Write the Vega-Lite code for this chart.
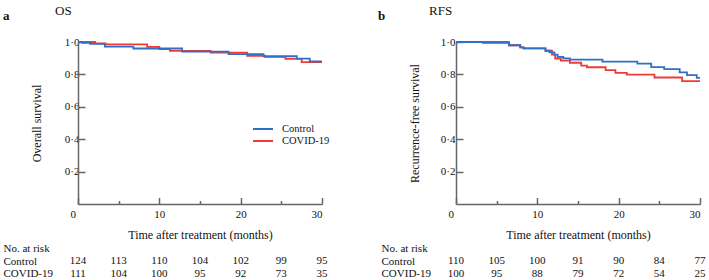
{
  "$schema": "https://vega.github.io/schema/vega-lite/v6.json",
  "background": "white",
  "padding": {"left": 3, "top": 5, "right": 0, "bottom": 0},
  "config": {
    "view": {"stroke": null},
    "font": "Liberation Serif",
    "axis": {"labelFont": "Liberation Serif", "titleFont": "Liberation Serif", "labelColor": "#111", "titleColor": "#111", "domainColor": "#666", "tickColor": "#666", "grid": false, "titleFontWeight": "normal", "labelFontSize": 11, "titleFontSize": 12, "domainWidth": 1.5, "tickWidth": 1.5},
    "title": {"font": "Liberation Serif", "color": "#111"},
    "legend": {"labelFont": "Liberation Serif", "labelColor": "#111"}
  },
  "datasets": {
    "km": [
      {"panel": "OS", "group": "COVID-19", "t": 0, "s": 1.0},
      {"panel": "OS", "group": "COVID-19", "t": 2.1, "s": 0.991},
      {"panel": "OS", "group": "COVID-19", "t": 3.4, "s": 0.985},
      {"panel": "OS", "group": "COVID-19", "t": 8.5, "s": 0.97},
      {"panel": "OS", "group": "COVID-19", "t": 10.0, "s": 0.956},
      {"panel": "OS", "group": "COVID-19", "t": 11.3, "s": 0.945},
      {"panel": "OS", "group": "COVID-19", "t": 16.3, "s": 0.934},
      {"panel": "OS", "group": "COVID-19", "t": 20.8, "s": 0.915},
      {"panel": "OS", "group": "COVID-19", "t": 23.0, "s": 0.908},
      {"panel": "OS", "group": "COVID-19", "t": 25.5, "s": 0.896},
      {"panel": "OS", "group": "COVID-19", "t": 27.5, "s": 0.876},
      {"panel": "OS", "group": "COVID-19", "t": 30, "s": 0.876},
      {"panel": "OS", "group": "Control", "t": 0, "s": 1.0},
      {"panel": "OS", "group": "Control", "t": 0.5, "s": 0.994},
      {"panel": "OS", "group": "Control", "t": 1.5, "s": 0.988},
      {"panel": "OS", "group": "Control", "t": 3.3, "s": 0.972},
      {"panel": "OS", "group": "Control", "t": 6.8, "s": 0.96},
      {"panel": "OS", "group": "Control", "t": 12.8, "s": 0.94},
      {"panel": "OS", "group": "Control", "t": 18.5, "s": 0.925},
      {"panel": "OS", "group": "Control", "t": 22.8, "s": 0.912},
      {"panel": "OS", "group": "Control", "t": 26.9, "s": 0.897},
      {"panel": "OS", "group": "Control", "t": 28.5, "s": 0.88},
      {"panel": "OS", "group": "Control", "t": 30, "s": 0.88},
      {"panel": "RFS", "group": "COVID-19", "t": 0, "s": 1.0},
      {"panel": "RFS", "group": "COVID-19", "t": 6.5, "s": 0.98},
      {"panel": "RFS", "group": "COVID-19", "t": 7.9, "s": 0.967},
      {"panel": "RFS", "group": "COVID-19", "t": 8.3, "s": 0.961},
      {"panel": "RFS", "group": "COVID-19", "t": 11.0, "s": 0.946},
      {"panel": "RFS", "group": "COVID-19", "t": 11.8, "s": 0.922},
      {"panel": "RFS", "group": "COVID-19", "t": 12.2, "s": 0.898},
      {"panel": "RFS", "group": "COVID-19", "t": 12.9, "s": 0.885},
      {"panel": "RFS", "group": "COVID-19", "t": 14.0, "s": 0.872},
      {"panel": "RFS", "group": "COVID-19", "t": 15.4, "s": 0.854},
      {"panel": "RFS", "group": "COVID-19", "t": 16.1, "s": 0.844},
      {"panel": "RFS", "group": "COVID-19", "t": 18.4, "s": 0.826},
      {"panel": "RFS", "group": "COVID-19", "t": 19.6, "s": 0.809},
      {"panel": "RFS", "group": "COVID-19", "t": 21.0, "s": 0.799},
      {"panel": "RFS", "group": "COVID-19", "t": 24.4, "s": 0.781},
      {"panel": "RFS", "group": "COVID-19", "t": 27.8, "s": 0.758},
      {"panel": "RFS", "group": "COVID-19", "t": 30, "s": 0.758},
      {"panel": "RFS", "group": "Control", "t": 0, "s": 1.0},
      {"panel": "RFS", "group": "Control", "t": 3.3, "s": 0.994},
      {"panel": "RFS", "group": "Control", "t": 6.5, "s": 0.98},
      {"panel": "RFS", "group": "Control", "t": 7.9, "s": 0.967},
      {"panel": "RFS", "group": "Control", "t": 8.3, "s": 0.961},
      {"panel": "RFS", "group": "Control", "t": 11.0, "s": 0.946},
      {"panel": "RFS", "group": "Control", "t": 11.5, "s": 0.936},
      {"panel": "RFS", "group": "Control", "t": 12.1, "s": 0.922},
      {"panel": "RFS", "group": "Control", "t": 12.5, "s": 0.908},
      {"panel": "RFS", "group": "Control", "t": 13.2, "s": 0.899},
      {"panel": "RFS", "group": "Control", "t": 14.0, "s": 0.891},
      {"panel": "RFS", "group": "Control", "t": 18.0, "s": 0.879},
      {"panel": "RFS", "group": "Control", "t": 22.3, "s": 0.866},
      {"panel": "RFS", "group": "Control", "t": 24.0, "s": 0.845},
      {"panel": "RFS", "group": "Control", "t": 25.6, "s": 0.832},
      {"panel": "RFS", "group": "Control", "t": 27.5, "s": 0.813},
      {"panel": "RFS", "group": "Control", "t": 28.4, "s": 0.795},
      {"panel": "RFS", "group": "Control", "t": 29.6, "s": 0.778},
      {"panel": "RFS", "group": "Control", "t": 30, "s": 0.778}
    ],
    "risk": [
      {"panel": "OS", "group": "Control", "t": 0, "n": 124},
      {"panel": "OS", "group": "Control", "t": 5, "n": 113},
      {"panel": "OS", "group": "Control", "t": 10, "n": 110},
      {"panel": "OS", "group": "Control", "t": 15, "n": 104},
      {"panel": "OS", "group": "Control", "t": 20, "n": 102},
      {"panel": "OS", "group": "Control", "t": 25, "n": 99},
      {"panel": "OS", "group": "Control", "t": 30, "n": 95},
      {"panel": "OS", "group": "COVID-19", "t": 0, "n": 111},
      {"panel": "OS", "group": "COVID-19", "t": 5, "n": 104},
      {"panel": "OS", "group": "COVID-19", "t": 10, "n": 100},
      {"panel": "OS", "group": "COVID-19", "t": 15, "n": 95},
      {"panel": "OS", "group": "COVID-19", "t": 20, "n": 92},
      {"panel": "OS", "group": "COVID-19", "t": 25, "n": 73},
      {"panel": "OS", "group": "COVID-19", "t": 30, "n": 35},
      {"panel": "RFS", "group": "Control", "t": 0, "n": 110},
      {"panel": "RFS", "group": "Control", "t": 5, "n": 105},
      {"panel": "RFS", "group": "Control", "t": 10, "n": 100},
      {"panel": "RFS", "group": "Control", "t": 15, "n": 91},
      {"panel": "RFS", "group": "Control", "t": 20, "n": 90},
      {"panel": "RFS", "group": "Control", "t": 25, "n": 84},
      {"panel": "RFS", "group": "Control", "t": 30, "n": 77},
      {"panel": "RFS", "group": "COVID-19", "t": 0, "n": 100},
      {"panel": "RFS", "group": "COVID-19", "t": 5, "n": 95},
      {"panel": "RFS", "group": "COVID-19", "t": 10, "n": 88},
      {"panel": "RFS", "group": "COVID-19", "t": 15, "n": 79},
      {"panel": "RFS", "group": "COVID-19", "t": 20, "n": 72},
      {"panel": "RFS", "group": "COVID-19", "t": 25, "n": 54},
      {"panel": "RFS", "group": "COVID-19", "t": 30, "n": 25}
    ]
  },
  "spacing": 48,
  "hconcat": [
    {
      "title": {"text": "a", "anchor": "start", "fontSize": 13, "fontWeight": "bold", "dy": 22},
      "spacing": 1,
      "vconcat": [
        {
          "width": 244,
          "height": 162,
          "title": {"text": "OS", "anchor": "start", "frame": "group", "dx": -23, "fontSize": 13, "fontWeight": "normal", "offset": 18},
          "data": {"name": "km"},
          "transform": [{"filter": "datum.panel == 'OS'"}],
          "mark": {"type": "line", "interpolate": "step-after", "strokeWidth": 1.8},
          "encoding": {
            "x": {"field": "t", "type": "quantitative", "scale": {"domain": [0, 30], "nice": false},
              "axis": {"title": "Time after treatment (months)", "values": [0, 5, 10, 15, 20, 25, 30], "labelExpr": "datum.value % 10 == 0 ? datum.label : ''", "tickSize": {"condition": {"test": "datum.value % 10 == 0", "value": -6.5}, "value": -3.5}, "labelPadding": 11, "labelOffset": {"condition": {"test": "datum.value == 0", "value": -8}, "value": 0}, "titlePadding": 10}},
            "y": {"field": "s", "type": "quantitative", "scale": {"domain": [0, 1], "nice": false},
              "axis": {"title": "Overall survival", "values": [0.2, 0.4, 0.6, 0.8, 1.0], "labelExpr": "replace(format(datum.value, '.1f'), '.', '·')", "tickSize": -7, "labelPadding": 6, "titlePadding": 21}},
            "color": {"field": "group", "type": "nominal", "scale": {"domain": ["Control", "COVID-19"], "range": ["#2f6fc6", "#ef3a36"]},
              "legend": {"orient": "none", "legendX": 179, "legendY": 81, "title": null, "symbolType": "M-2,0H2", "symbolSize": 100, "symbolStrokeWidth": 2, "labelFontSize": 10.5, "labelOffset": 13, "rowPadding": 0}}
          }
        },
        {
          "width": 244,
          "height": 38,
          "data": {"name": "risk"},
          "transform": [{"filter": "datum.panel == 'OS'"}],
          "mark": {"type": "text", "fontSize": 11, "font": "Liberation Serif", "color": "#111"},
          "encoding": {
            "x": {"field": "t", "type": "quantitative", "scale": {"domain": [0, 30], "nice": false}, "axis": null},
            "y": {"field": "group", "type": "nominal", "scale": {"type": "point", "padding": 0.5, "domain": ["No. at risk", "Control", "COVID-19"]},
              "axis": {"title": null, "domain": false, "ticks": false, "labelAlign": "left", "labelPadding": 75, "labelFontSize": 11}},
            "text": {"field": "n", "type": "quantitative"}
          }
        }
      ]
    },
    {
      "title": {"text": "b", "anchor": "start", "fontSize": 13, "fontWeight": "bold", "dy": 22, "dx": -3},
      "spacing": 1,
      "vconcat": [
        {
          "width": 244,
          "height": 162,
          "title": {"text": "RFS", "anchor": "start", "frame": "group", "dx": -27, "fontSize": 13, "fontWeight": "normal", "offset": 18},
          "data": {"name": "km"},
          "transform": [{"filter": "datum.panel == 'RFS'"}],
          "mark": {"type": "line", "interpolate": "step-after", "strokeWidth": 1.8},
          "encoding": {
            "x": {"field": "t", "type": "quantitative", "scale": {"domain": [0, 30], "nice": false},
              "axis": {"title": "Time after treatment (months)", "values": [0, 5, 10, 15, 20, 25, 30], "labelExpr": "datum.value % 10 == 0 ? datum.label : ''", "tickSize": {"condition": {"test": "datum.value % 10 == 0", "value": -6.5}, "value": -3.5}, "labelPadding": 11, "labelOffset": {"condition": {"test": "datum.value == 0", "value": -8}, "value": 0}, "titlePadding": 10}},
            "y": {"field": "s", "type": "quantitative", "scale": {"domain": [0, 1], "nice": false},
              "axis": {"title": "Recurrence-free survival", "values": [0.2, 0.4, 0.6, 0.8, 1.0], "labelExpr": "replace(format(datum.value, '.1f'), '.', '·')", "tickSize": -7, "labelPadding": 8, "titlePadding": 19}},
            "color": {"field": "group", "type": "nominal", "scale": {"domain": ["Control", "COVID-19"], "range": ["#2f6fc6", "#ef3a36"]}, "legend": null}
          }
        },
        {
          "width": 244,
          "height": 38,
          "data": {"name": "risk"},
          "transform": [{"filter": "datum.panel == 'RFS'"}],
          "mark": {"type": "text", "fontSize": 11, "font": "Liberation Serif", "color": "#111"},
          "encoding": {
            "x": {"field": "t", "type": "quantitative", "scale": {"domain": [0, 30], "nice": false}, "axis": null},
            "y": {"field": "group", "type": "nominal", "scale": {"type": "point", "padding": 0.5, "domain": ["No. at risk", "Control", "COVID-19"]},
              "axis": {"title": null, "domain": false, "ticks": false, "labelAlign": "left", "labelPadding": 75, "labelFontSize": 11}},
            "text": {"field": "n", "type": "quantitative"}
          }
        }
      ]
    }
  ],
  "resolve": {"scale": {"color": "independent"}, "legend": {"color": "independent"}}
}
